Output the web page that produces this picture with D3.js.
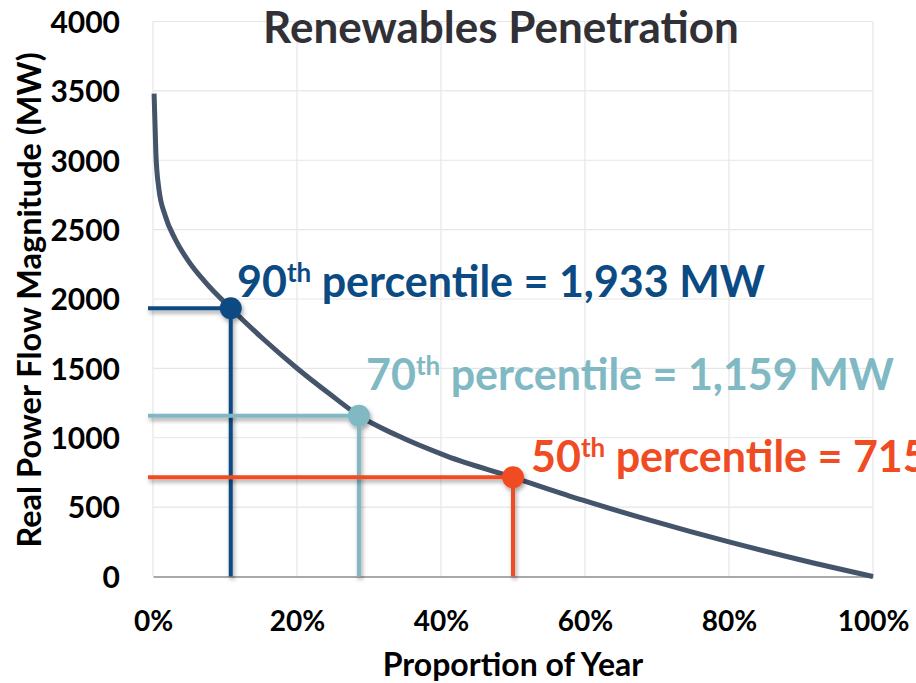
<!DOCTYPE html>
<html>
<head>
<meta charset="utf-8">
<script src="https://cdn.jsdelivr.net/npm/d3@7"></script>
<style>
  html, body { margin: 0; padding: 0; background: #ffffff; }
  svg { display: block; }
  text { font-family: Lato, "Open Sans", sans-serif; font-weight: 700; }
</style>
</head>
<body>
<svg id="chart" width="916" height="683"></svg>
<script>
// Load duration curve: share of the year vs. flow magnitude (MW)
const yearShare = [0.0015, 0.004, 0.008, 0.017, 0.031, 0.049, 0.072, 0.108, 0.152, 0.200,
                   0.246, 0.286, 0.338, 0.408, 0.500, 0.597, 0.690, 0.800, 0.900, 1.000];
const flowMW    = [3480, 3050, 2800, 2600, 2430, 2275, 2125, 1933, 1717, 1501,
                   1313, 1159, 1019, 868, 715, 550, 406, 249, 119, 0];

// Highlighted percentiles
const pctLabels = ["90", "70", "50"];
const pctShare  = [0.108, 0.286, 0.500];
const pctMW     = [1933, 1159, 715];
const pctText   = ["1,933 MW", "1,159 MW", "715 MW"];
const pctColors = ["#0b4a82", "#80b9c3", "#f04b23"];

const yTicks = [0, 500, 1000, 1500, 2000, 2500, 3000, 3500, 4000];
const xTicks = [0, 0.2, 0.4, 0.6, 0.8, 1.0];

const titleText = "Renewables Penetration";
const xTitle = "Proportion of Year";
const yTitle = "Real Power Flow Magnitude (MW)";

const svg = d3.select("#chart");
const plotL = 153, plotR = 873, plotT = 21.5, plotB = 576.5;

const x = d3.scaleLinear().domain([0, 1]).range([plotL, plotR]);
const y = d3.scaleLinear().domain([0, 4000]).range([plotB, plotT]);

// drop shadow used by the percentile guides
const defs = svg.append("defs");
const f = defs.append("filter").attr("id", "shadow")
  .attr("x", "-20%").attr("y", "-20%").attr("width", "140%").attr("height", "140%");
f.append("feDropShadow").attr("dx", 1.5).attr("dy", 3).attr("stdDeviation", 2)
  .attr("flood-color", "#000").attr("flood-opacity", 0.35);

// gridlines
const grid = svg.append("g");
grid.selectAll("line.h").data(yTicks.filter(d => d > 0)).join("line")
  .attr("x1", plotL).attr("x2", plotR)
  .attr("y1", d => y(d)).attr("y2", d => y(d))
  .attr("stroke", "#e6e6e6").attr("stroke-width", 1.2);
grid.selectAll("line.v").data(xTicks).join("line")
  .attr("x1", d => x(d)).attr("x2", d => x(d))
  .attr("y1", plotT).attr("y2", plotB)
  .attr("stroke", "#e6e6e6").attr("stroke-width", 1.2);

// axes
const yAxis = d3.axisLeft(y).tickValues(yTicks).tickSize(0).tickPadding(33).tickFormat(d3.format("d"));
const yg = svg.append("g").attr("transform", `translate(${plotL},0)`).call(yAxis);
yg.select(".domain").remove();
yg.selectAll("text").attr("font-size", 30).attr("fill", "#000")
  .attr("font-family", "Lato, sans-serif").attr("font-weight", 700).attr("dy", "0.36em");

const xAxis = d3.axisBottom(x).tickValues(xTicks).tickSize(0).tickPadding(0).tickFormat(d3.format(".0%"));
const xg = svg.append("g").attr("transform", `translate(0,${plotB})`).call(xAxis);
xg.select(".domain").attr("stroke", "#8c8c8c").attr("stroke-width", 1.5);
xg.selectAll("text").attr("font-size", 28).attr("fill", "#000")
  .attr("font-family", "Lato, sans-serif").attr("font-weight", 700)
  .attr("y", 631 - plotB).attr("dy", 0);

// duration curve
const line = d3.line().x((d, i) => x(yearShare[i])).y(d => y(d)).curve(d3.curveMonotoneX);
svg.append("path").datum(flowMW)
  .attr("d", line)
  .attr("fill", "none").attr("stroke", "#44546a").attr("stroke-width", 5);

// percentile guides
const guides = svg.append("g");
pctShare.forEach((s, i) => {
  const g = guides.append("g").attr("filter", "url(#shadow)");
  g.append("line")
    .attr("x1", plotL - 5).attr("x2", x(s))
    .attr("y1", y(pctMW[i])).attr("y2", y(pctMW[i]))
    .attr("stroke", pctColors[i]).attr("stroke-width", 4);
  g.append("line")
    .attr("x1", x(s)).attr("x2", x(s))
    .attr("y1", y(pctMW[i])).attr("y2", plotB)
    .attr("stroke", pctColors[i]).attr("stroke-width", 4);
  g.append("circle")
    .attr("cx", x(s)).attr("cy", y(pctMW[i])).attr("r", 11)
    .attr("fill", pctColors[i]);
});

// percentile labels
const labelPos = [[237, 297], [366, 390], [531, 472]];
pctLabels.forEach((p, i) => {
  const t = svg.append("text")
    .attr("x", labelPos[i][0]).attr("y", labelPos[i][1])
    .attr("font-size", 43).attr("fill", pctColors[i]);
  t.append("tspan").text(p);
  t.append("tspan").attr("font-size", 26).attr("dy", -15).text("th");
  t.append("tspan").attr("dy", 15).text(" percentile = " + pctText[i]);
});

// titles
svg.append("text").attr("x", 501).attr("y", 43).attr("text-anchor", "middle")
  .attr("font-size", 44).attr("fill", "#303036").text(titleText);

svg.append("text").attr("x", 513).attr("y", 676).attr("text-anchor", "middle")
  .attr("font-size", 32).attr("fill", "#000").text(xTitle);

svg.append("text").attr("transform", "translate(41,300) rotate(-90)")
  .attr("text-anchor", "middle")
  .attr("font-size", 32.5).attr("fill", "#000").text(yTitle);
</script>
</body>
</html>
